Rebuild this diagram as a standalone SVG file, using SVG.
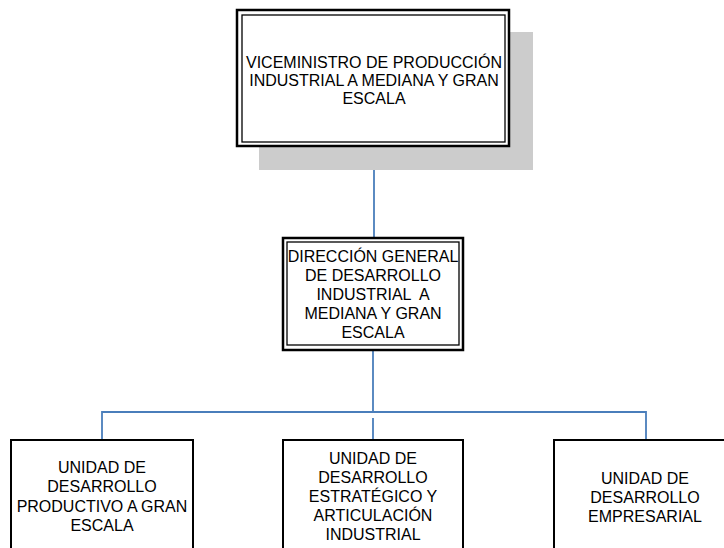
<svg xmlns="http://www.w3.org/2000/svg" width="724" height="548" viewBox="0 0 724 548">
<style>
text{font-family:"Liberation Sans",Arial,sans-serif;font-size:16px;fill:#000;text-anchor:middle}
.outer{fill:#fff;stroke:#000;stroke-width:2.5}
.inner{fill:none;stroke:#000;stroke-width:1.3}
.box{fill:#fff;stroke:#000;stroke-width:2}
.conn{fill:none;stroke:#4a7ebb;stroke-width:1.8}
</style>
<rect width="724" height="548" fill="#fff"/>
<g id="connectors">
<path class="conn" d="M374 147V238"/>
<path class="conn" d="M373 350V412"/>
<path class="conn" d="M102 440V412H646V440"/>
<path class="conn" d="M373 418V440"/>
</g>
<g id="n1">
<rect x="259" y="32" width="274" height="138" fill="#cccccc"/>
<rect class="outer" x="237" y="10" width="272" height="136"/>
<rect class="inner" x="242" y="15" width="263" height="127"/>
<text x="374" y="68">VICEMINISTRO DE PRODUCCIÓN</text>
<text x="374" y="86">INDUSTRIAL A MEDIANA Y GRAN</text>
<text x="374" y="104">ESCALA</text>
</g>
<g id="n2">
<rect class="outer" x="283" y="238" width="180" height="112"/>
<rect class="inner" x="287" y="242" width="172" height="103"/>
<text x="373" y="262">DIRECCIÓN GENERAL</text>
<text x="373" y="281">DE DESARROLLO</text>
<text x="373" y="300" xml:space="preserve">INDUSTRIAL  A</text>
<text x="373" y="319">MEDIANA Y GRAN</text>
<text x="373" y="338">ESCALA</text>
</g>
<g id="n3">
<rect class="box" x="11" y="440" width="182" height="120"/>
<text x="102" y="473">UNIDAD DE</text>
<text x="102" y="492">DESARROLLO</text>
<text x="102" y="512">PRODUCTIVO A GRAN</text>
<text x="102" y="531">ESCALA</text>
</g>
<g id="n4">
<rect class="box" x="283" y="440" width="180" height="120"/>
<text x="373" y="464">UNIDAD DE</text>
<text x="373" y="483">DESARROLLO</text>
<text x="373" y="502">ESTRATÉGICO Y</text>
<text x="373" y="521">ARTICULACIÓN</text>
<text x="373" y="540">INDUSTRIAL</text>
</g>
<g id="n5">
<rect class="box" x="554" y="440" width="182" height="120"/>
<text x="645" y="484">UNIDAD DE</text>
<text x="645" y="503">DESARROLLO</text>
<text x="645" y="522">EMPRESARIAL</text>
</g>
</svg>
